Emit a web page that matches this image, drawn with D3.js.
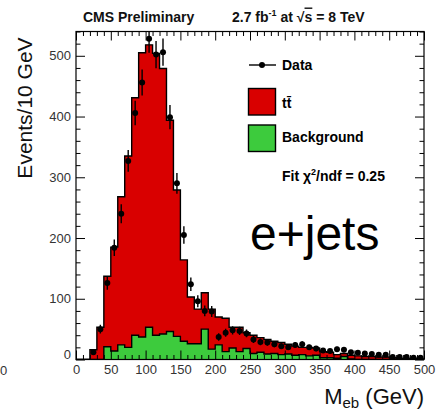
<!DOCTYPE html>
<html><head><meta charset="utf-8">
<script src="https://cdn.jsdelivr.net/npm/d3@7"></script>
<style>
html,body{margin:0;padding:0;background:#fff;}
svg{display:block;font-family:"Liberation Sans",Arial,Helvetica,sans-serif;}
</style></head><body>
<svg id="chart" width="436" height="410"></svg>
<script>
// M_eb distribution, 10 GeV bins from 0 to 500 GeV
const binLow = [0,10,20,30,40,50,60,70,80,90,100,110,120,130,140,150,160,170,180,190,
  200,210,220,230,240,250,260,270,280,290,300,310,320,330,340,350,360,370,380,390,
  400,410,420,430,440,450,460,470,480,490];
const ttbar = [0,0,16,53,116,171,244,315,391,468,465,464,437,348,241,134,77,57,60,66,
  46,55,34,40,26,30,24,24,20,20,16,15,12,14,12,10,9,6,5,6,
  6,5,5,4,4,3,2,2,2,1];
const background = [0,0,0,0,21,14,24,20,40,37,53,40,42,46,38,30,26,26,50,17,
  24,13,19,13,18,10,12,9,10,8,9,7,8,6,7,3,3,2,5,1,
  0,0,0,0,0,0,0,0,0,0];
const data = [0,0,12,50,126,184,240,327,406,456,528,502,506,399,290,205,124,96,80,79,
  37,44,48,47,43,33,29,28,25,22,20,24,25,20,18,15,14,17,16,12,
  11,10,9,8,8,4,4,4,3,3];
const xTicks = [0,50,100,150,200,250,300,350,400,450,500];
const yTicks = [0,100,200,300,400,500];

const BIN = 10;
const svg = d3.select("#chart");
const plot = {left:76, right:424, top:31.5, bottom:359.5};
const x = d3.scaleLinear().domain([0,500]).range([plot.left, plot.right]);
const y = d3.scaleLinear().domain([0,540]).range([plot.bottom, plot.top]);

const RED = "#d90000", GREEN = "#3dcb3d";
const total = ttbar.map((v,i) => v + background[i]);

svg.append("clipPath").attr("id","plotclip").append("rect")
  .attr("x",plot.left).attr("y",plot.top)
  .attr("width",plot.right-plot.left).attr("height",plot.bottom-plot.top);

const g = svg.append("g").attr("clip-path","url(#plotclip)");

function fillPoints(vals){
  const pts = binLow.map((b,i) => [b, vals[i]]);
  pts.push([binLow[binLow.length-1] + BIN, vals[vals.length-1]]);
  return pts;
}
function outlinePoints(vals){
  const pts = [[binLow[0],0]].concat(binLow.map((b,i) => [b, vals[i]]));
  pts.push([binLow[binLow.length-1] + BIN, 0]);
  return pts;
}
const area = d3.area().curve(d3.curveStepAfter)
  .x(d => x(d[0])).y0(y(0)).y1(d => y(d[1]));
const line = d3.line().curve(d3.curveStepAfter)
  .x(d => x(d[0])).y(d => y(d[1]));

// stacked: ttbar on top of background
g.append("path").attr("d", area(fillPoints(total))).attr("fill", RED);
g.append("path").attr("d", line(outlinePoints(total)))
  .attr("fill","none").attr("stroke","#000").attr("stroke-width",1.4);
g.append("path").attr("d", area(fillPoints(background))).attr("fill", GREEN);
g.append("path").attr("d", line(outlinePoints(background)))
  .attr("fill","none").attr("stroke","#000").attr("stroke-width",1.4);

// data points with statistical error bars
const pts = binLow.map((b,i) => ({c: b + BIN/2, n: data[i]})).filter(d => d.n > 0);
const dg = g.append("g");
dg.selectAll("line.err").data(pts).join("line").attr("class","err")
  .attr("x1", d => x(d.c)).attr("x2", d => x(d.c))
  .attr("y1", d => y(d.n - Math.sqrt(d.n))).attr("y2", d => y(d.n + Math.sqrt(d.n)))
  .attr("stroke","#000").attr("stroke-width",1.4);
dg.selectAll("circle").data(pts).join("circle")
  .attr("cx", d => x(d.c)).attr("cy", d => y(d.n)).attr("r",3).attr("fill","#000");

// axes: ticks on all four sides, pointing inward
const xMinor = d3.range(0,501,10).filter(v => v % 50 !== 0);
const yMinor = d3.range(0,541,20).filter(v => v % 100 !== 0);
const MAJ = 9, MIN = 4.5;

function styleAxis(sel){
  sel.select(".domain").remove();
  sel.selectAll(".tick line").attr("stroke","#000").attr("stroke-width",1);
  sel.selectAll("text").attr("font-size",13).attr("fill","#333")
    .attr("font-family",'"Liberation Sans",Arial,sans-serif');
}
const axB = svg.append("g").attr("transform",`translate(0,${plot.bottom})`)
  .call(d3.axisBottom(x).tickValues(xTicks).tickSize(-MAJ).tickSizeOuter(0).tickPadding(5));
styleAxis(axB);
const axBm = svg.append("g").attr("transform",`translate(0,${plot.bottom})`)
  .call(d3.axisBottom(x).tickValues(xMinor).tickSize(-MIN).tickSizeOuter(0).tickFormat(""));
styleAxis(axBm);
const axT = svg.append("g").attr("transform",`translate(0,${plot.top})`)
  .call(d3.axisTop(x).tickValues(xTicks).tickSize(-MAJ).tickSizeOuter(0).tickFormat(""));
styleAxis(axT);
const axTm = svg.append("g").attr("transform",`translate(0,${plot.top})`)
  .call(d3.axisTop(x).tickValues(xMinor).tickSize(-MIN).tickSizeOuter(0).tickFormat(""));
styleAxis(axTm);
const axL = svg.append("g").attr("transform",`translate(${plot.left},0)`)
  .call(d3.axisLeft(y).tickValues(yTicks).tickSize(-MAJ).tickSizeOuter(0).tickPadding(5));
styleAxis(axL);
axL.selectAll(".tick text").filter(d => d === 0).attr("dy","-0.05em");
const axLm = svg.append("g").attr("transform",`translate(${plot.left},0)`)
  .call(d3.axisLeft(y).tickValues(yMinor).tickSize(-MIN).tickSizeOuter(0).tickFormat(""));
styleAxis(axLm);
const axR = svg.append("g").attr("transform",`translate(${plot.right},0)`)
  .call(d3.axisRight(y).tickValues(yTicks).tickSize(-MAJ).tickSizeOuter(0).tickFormat(""));
styleAxis(axR);
const axRm = svg.append("g").attr("transform",`translate(${plot.right},0)`)
  .call(d3.axisRight(y).tickValues(yMinor).tickSize(-MIN).tickSizeOuter(0).tickFormat(""));
styleAxis(axRm);

svg.append("rect").attr("x",plot.left).attr("y",plot.top)
  .attr("width",plot.right-plot.left).attr("height",plot.bottom-plot.top)
  .attr("fill","none").attr("stroke","#000").attr("stroke-width",1.2);

// header
svg.append("text").attr("x",83).attr("y",21.5).attr("font-size",14).attr("font-weight","bold")
  .attr("fill","#111").text("CMS Preliminary");
const lum = svg.append("text").attr("x",232).attr("y",21.5).attr("font-size",14)
  .attr("font-weight","bold").attr("fill","#111");
lum.append("tspan").text("2.7 fb");
lum.append("tspan").attr("font-size",9).attr("dy",-6).text("-1");
lum.append("tspan").attr("dy",6).text(" at √");
lum.append("tspan").attr("text-decoration","overline").text("s");
lum.append("tspan").text(" = 8 TeV");

// axis titles
svg.append("text").attr("transform","translate(32,108) rotate(-90)")
  .attr("text-anchor","middle").attr("font-size",21).attr("fill","#111").text("Events/10 GeV");
const xt = svg.append("text").attr("x",424).attr("y",404).attr("text-anchor","end")
  .attr("font-size",22).attr("fill","#111");
xt.append("tspan").text("M");
xt.append("tspan").attr("font-size",15).attr("dy",4).text("eb");
xt.append("tspan").attr("dy",-4).text(" (GeV)");

// stray label at far left edge
svg.append("text").attr("x",0).attr("y",375).attr("font-size",13).attr("fill","#333").text("0");

// channel label
svg.append("text").attr("x",250).attr("y",250).attr("font-size",48).attr("fill","#000").text("e+jets");

// legend
const leg = svg.append("g");
leg.append("line").attr("x1",249).attr("x2",276).attr("y1",65).attr("y2",65)
  .attr("stroke","#000").attr("stroke-width",1.4);
leg.append("circle").attr("cx",262).attr("cy",65).attr("r",3).attr("fill","#000");
leg.append("text").attr("x",282).attr("y",70).attr("font-size",14).attr("font-weight","bold").text("Data");
leg.append("rect").attr("x",248.5).attr("y",88.5).attr("width",27).attr("height",26.5)
  .attr("fill",RED).attr("stroke","#000").attr("stroke-width",1.4);
leg.append("text").attr("x",282).attr("y",108).attr("font-size",14).attr("font-weight","bold").text("tt\u0304");
leg.append("rect").attr("x",248.5).attr("y",125).attr("width",27).attr("height",26.5)
  .attr("fill",GREEN).attr("stroke","#000").attr("stroke-width",1.4);
leg.append("text").attr("x",282).attr("y",142).attr("font-size",14).attr("font-weight","bold").text("Background");
const fit = leg.append("text").attr("x",282).attr("y",181).attr("font-size",14).attr("font-weight","bold");
fit.append("tspan").text("Fit χ");
fit.append("tspan").attr("font-size",9).attr("dy",-6).text("2");
fit.append("tspan").attr("dy",6).text("/ndf = 0.25");
</script>
</body></html>
